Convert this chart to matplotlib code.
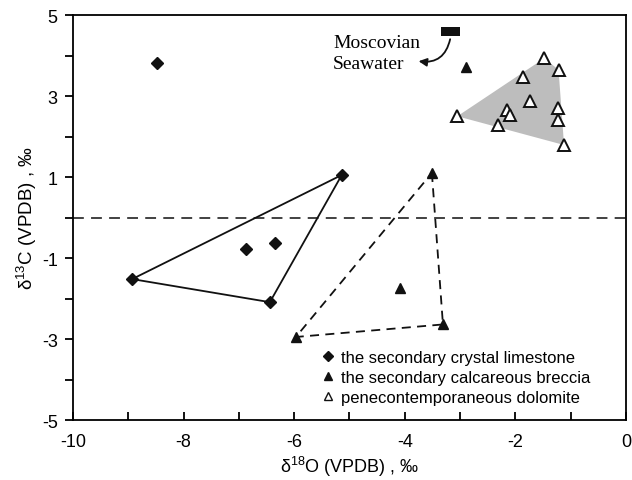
import numpy as np
import matplotlib.pyplot as plt
from matplotlib.lines import Line2D
from matplotlib.patches import Polygon, FancyArrowPatch

# secondary crystal limestone (diamonds)
lime_x = [-8.48, -5.14, -8.93, -6.44, -6.87, -6.35]
lime_y = [3.81, 1.05, -1.52, -2.09, -0.78, -0.63]
lime_hull = [1, 2, 3]  # indices of the solid triangle

# secondary calcareous breccia (filled triangles)
brec_x = [-3.51, -4.09, -3.31, -5.97, -2.90]
brec_y = [1.10, -1.74, -2.64, -2.95, 3.71]
brec_hull = [0, 2, 3]

# penecontemporaneous dolomite (open triangles)
dolo_x = [-1.48, -1.22, -1.86, -1.73, -2.15, -2.09, -3.05, -2.32, -1.23, -1.23, -1.12]
dolo_y = [3.93, 3.65, 3.46, 2.87, 2.66, 2.54, 2.50, 2.28, 2.70, 2.41, 1.79]
dolo_hull = [6, 0, 1, 10]

# Moscovian seawater box
sea_x = [-3.34, -3.00]
sea_y = [4.47, 4.70]

plt.rcParams['font.family'] = ['Liberation Sans', 'DejaVu Sans']
plt.rcParams['axes.unicode_minus'] = False

fig = plt.figure(figsize=(6.32, 4.81), dpi=100)
ax = fig.add_axes([0.1155, 0.1247, 0.875, 0.842])

# grey field of dolomite
ax.add_patch(Polygon(np.column_stack([np.take(dolo_x, dolo_hull), np.take(dolo_y, dolo_hull)]),
                     closed=True, facecolor='#bdbdbd', edgecolor='none', zorder=1))

# zero line
ax.axhline(0, color='#333333', lw=1.3, dashes=(6, 4), zorder=2)

# solid triangle around limestone
hx = np.take(lime_x, lime_hull + lime_hull[:1])
hy = np.take(lime_y, lime_hull + lime_hull[:1])
ax.plot(hx, hy, color='#111111', lw=1.3, zorder=2)

# dashed triangle around breccia
hx = np.take(brec_x, brec_hull + brec_hull[:1])
hy = np.take(brec_y, brec_hull + brec_hull[:1])
ax.plot(hx, hy, color='#111111', lw=1.3, dashes=(5, 3.5), zorder=2)

ax.plot(lime_x, lime_y, 'D', color='#111111', ms=6, ls='none', zorder=3)
ax.plot(brec_x, brec_y, '^', color='#111111', ms=7, ls='none', zorder=3)
ax.plot(dolo_x, dolo_y, '^', mfc='white', mec='#111111', mew=1.4, ms=8, ls='none', zorder=3)

# seawater
ax.fill_between(sea_x, sea_y[0], sea_y[1], color='#111111', lw=0, zorder=3)
ax.add_patch(FancyArrowPatch((np.mean(sea_x), sea_y[0]), (-3.80, 3.87),
                             connectionstyle='arc3,rad=-0.5', arrowstyle='-|>',
                             mutation_scale=12, color='#111111', lw=1.3, zorder=3))
ax.text(-5.30, 4.06, 'Moscovian\nSeawater', family='Liberation Serif', fontsize=14,
        va='center', ha='left', linespacing=1.25)

ax.set_xlim(-10, 0)
ax.set_ylim(-5, 5)
ax.set_xticks(np.arange(-10, 1, 2))
ax.set_xticks(np.arange(-9, 0, 2), minor=True)
ax.set_yticks(np.arange(-5, 6, 2))
ax.set_yticks(np.arange(-4, 5, 2), minor=True)
ax.tick_params(axis='x', which='both', direction='in', length=6, width=1.3, labelsize=13, pad=9)
ax.tick_params(axis='y', which='both', direction='out', length=6, width=1.3, labelsize=13, pad=5)
for s in ax.spines.values():
    s.set_linewidth(1.3)

ax.set_xlabel('δ$^{\\mathregular{18}}$O (VPDB) , ‰', fontsize=13, labelpad=3)
ax.set_ylabel('δ$^{\\mathregular{13}}$C (VPDB) , ‰', fontsize=13.5, labelpad=2)

handles = [
    Line2D([], [], marker='D', color='#111111', ls='none', ms=5),
    Line2D([], [], marker='^', color='#111111', ls='none', ms=6),
    Line2D([], [], marker='^', mfc='white', mec='#111111', mew=1, ls='none', ms=6),
]
labels = ['the secondary crystal limestone', 'the secondary calcareous breccia',
          'penecontemporaneous dolomite']
ax.legend(handles, labels, loc='lower left', bbox_to_anchor=(0.425, 0.0), frameon=False,
          fontsize=12, handlelength=0.6, handletextpad=0.5, labelspacing=0.3)

fig.savefig('out.png', dpi=100)
